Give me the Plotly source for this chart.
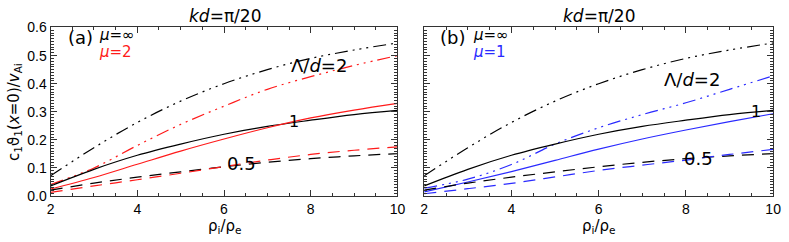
import plotly.graph_objects as go

# ---------------- data ----------------
rho_ratio = [2, 3, 4, 5, 6, 7, 8, 9, 10]

# mu = infinity (black), both panels
inf_L2 = [0.072, 0.172, 0.262, 0.338, 0.400, 0.450, 0.490, 0.520, 0.545]
inf_L1 = [0.036, 0.095, 0.145, 0.185, 0.220, 0.248, 0.270, 0.290, 0.305]
inf_L05 = [0.021, 0.046, 0.067, 0.086, 0.104, 0.120, 0.133, 0.143, 0.151]

# mu = 2 (red), panel a
mu2_L2 = [0.041, 0.100, 0.180, 0.255, 0.320, 0.380, 0.425, 0.465, 0.500]
mu2_L1 = [0.025, 0.066, 0.113, 0.160, 0.203, 0.243, 0.278, 0.306, 0.330]
mu2_L05 = [0.013, 0.036, 0.058, 0.081, 0.105, 0.128, 0.148, 0.163, 0.175]

# mu = 1 (blue), panel b
mu1_L2 = [0.028, 0.060, 0.112, 0.185, 0.243, 0.290, 0.332, 0.380, 0.428]
mu1_L1 = [0.015, 0.050, 0.087, 0.127, 0.167, 0.203, 0.235, 0.265, 0.293]
mu1_L05 = [0.008, 0.026, 0.045, 0.068, 0.091, 0.110, 0.128, 0.148, 0.166]

x_ticks = [2, 4, 6, 8, 10]
y_ticks = [0.0, 0.1, 0.2, 0.3, 0.4, 0.5, 0.6]
y_ticklabels = ["0.0", "0.1", "0.2", "0.3", "0.4", "0.5", "0.6"]

# ---------------- styles ----------------
W, H = 789, 242
BLACK = "#000000"
RED = "#ff1a1a"
BLUE = "#2a2aff"
DASHDOT3 = "13px,5px,2px,5px,2px,5px,2px,5px"
DASHED = "12px,8px"
LW = 1.2
FONT = "DejaVu Sans"
TICKFONT = "Liberation Sans"


def px_x(p):
    return p / W


def px_y(p):
    return (H - p) / H


fig = go.Figure()


def add(y, color, dash, xa, ya):
    fig.add_trace(go.Scatter(
        x=rho_ratio, y=y, mode="lines", xaxis=xa, yaxis=ya,
        line=dict(color=color, width=LW, dash=dash, shape="spline"),
        showlegend=False, hoverinfo="skip"))


# panel a
add(inf_L2, BLACK, DASHDOT3, "x", "y")
add(mu2_L2, RED, DASHDOT3, "x", "y")
add(inf_L1, BLACK, "solid", "x", "y")
add(mu2_L1, RED, "solid", "x", "y")
add(inf_L05, BLACK, DASHED, "x", "y")
add(mu2_L05, RED, DASHED, "x", "y")
# panel b
add(inf_L2, BLACK, DASHDOT3, "x2", "y2")
add(mu1_L2, BLUE, DASHDOT3, "x2", "y2")
add(inf_L1, BLACK, "solid", "x2", "y2")
add(mu1_L1, BLUE, "solid", "x2", "y2")
add(inf_L05, BLACK, DASHED, "x2", "y2")
add(mu1_L05, BLUE, DASHED, "x2", "y2")

ydom = [px_y(201.5), px_y(21)]

xaxis_common = dict(
    range=[2, 10], tickvals=x_ticks, ticktext=[str(v) for v in x_ticks],
    ticks="inside", ticklen=6, tickcolor="#333", tickwidth=1,
    minor=dict(dtick=0.5, ticks="inside", ticklen=3, tickcolor="#333"),
    showline=True, linecolor="#333", linewidth=1, mirror="ticks",
    showgrid=False, zeroline=False,
    tickfont=dict(family=TICKFONT, size=14, color="#000"),
)
yaxis_common = dict(
    range=[0, 0.603], tickvals=y_ticks, ticktext=y_ticklabels,
    ticks="inside", ticklen=6, tickcolor="#333", tickwidth=1,
    minor=dict(dtick=0.01, ticks="inside", ticklen=3, tickcolor="#333"),
    showline=True, linecolor="#333", linewidth=1, mirror="ticks",
    showgrid=False, zeroline=False,
    tickfont=dict(family=TICKFONT, size=14, color="#000"),
    domain=ydom,
)

fig.update_layout(
    width=W, height=H,
    margin=dict(l=0, r=0, t=0, b=0),
    paper_bgcolor="white", plot_bgcolor="white",
    xaxis=dict(domain=[px_x(47.3), px_x(399.5)], anchor="y", **xaxis_common),
    yaxis=dict(anchor="x", showticklabels=True, **yaxis_common),
    xaxis2=dict(domain=[px_x(426.7), px_x(781)], anchor="y2", **xaxis_common),
    yaxis2=dict(anchor="x2", showticklabels=False, **yaxis_common),
)

ann = []


def A(text, x, y, xref, yref, size=15, color=BLACK, xanchor="center", yanchor="middle", angle=0):
    ann.append(dict(text=text, x=x, y=y, xref=xref, yref=yref, showarrow=False,
                    font=dict(family=FONT, size=size, color=color),
                    xanchor=xanchor, yanchor=yanchor, textangle=angle))


# titles
A("<i>kd</i>=π/20", px_x(224), px_y(10), "paper", "paper", size=17)
A("<i>kd</i>=π/20", px_x(604), px_y(10), "paper", "paper", size=17)
# x titles
A("ρ<sub>i</sub>/ρ<sub>e</sub>", px_x(224), px_y(234), "paper", "paper", size=15)
A("ρ<sub>i</sub>/ρ<sub>e</sub>", px_x(604), px_y(234), "paper", "paper", size=15)
# y title
A("c<sub>1</sub>ϑ<sub>1</sub>(<i>x</i>=0)/<i>v</i><sub>Ai</sub>", px_x(10), px_y(112),
  "paper", "paper", size=15, angle=-90)

# panel labels
A("(a)", px_x(63), px_y(33), "paper", "paper", size=18, xanchor="left")
A("<i>μ</i>=∞", px_x(94), px_y(30), "paper", "paper", size=15, xanchor="left")
A("<i>μ</i>=2", px_x(94), px_y(48), "paper", "paper", size=15, color=RED, xanchor="left")
A("(b)", px_x(441), px_y(33), "paper", "paper", size=18, xanchor="left")
A("<i>μ</i>=∞", px_x(474), px_y(30), "paper", "paper", size=15, xanchor="left")
A("<i>μ</i>=1", px_x(474), px_y(48), "paper", "paper", size=15, color=BLUE, xanchor="left")

# curve labels
A("Λ/<i>d</i>=2", 8.2, 0.465, "x", "y", size=18)
A("1", 7.62, 0.265, "x", "y", size=16)
A("0.5", 6.4, 0.115, "x", "y", size=18)
A("Λ/<i>d</i>=2", 8.15, 0.416, "x2", "y2", size=18)
A("1", 9.6, 0.30, "x2", "y2", size=16)
A("0.5", 8.3, 0.133, "x2", "y2", size=18)

fig.update_layout(annotations=ann)

fig.write_html("out.html", config={"displayModeBar": False},
               post_script="document.body.style.margin='0';")
